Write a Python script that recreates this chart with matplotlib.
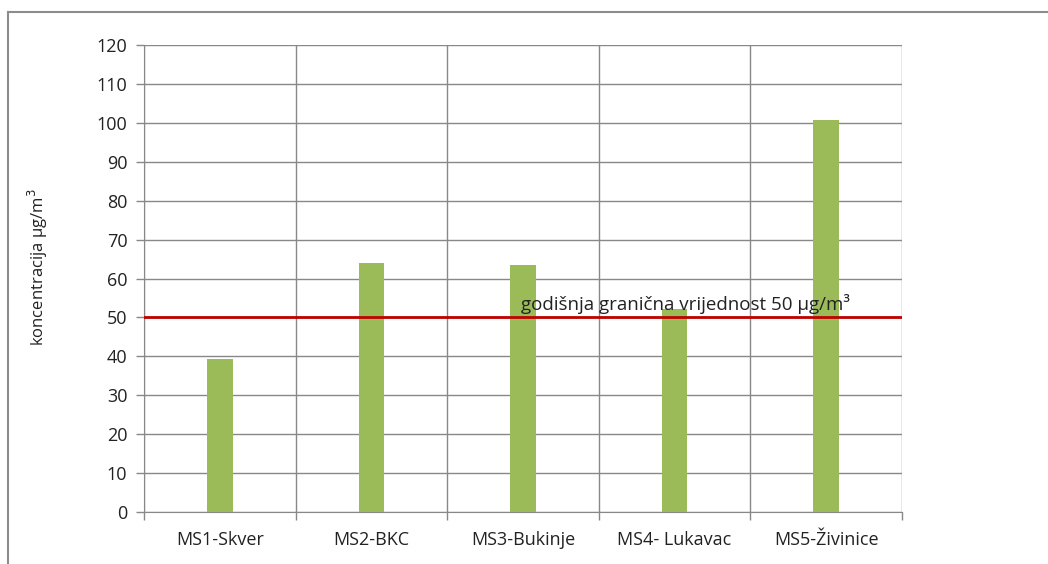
import matplotlib.pyplot as plt
from matplotlib.lines import Line2D
import numpy as np

# data
stations = ['MS1-Skver', 'MS2-BKC', 'MS3-Bukinje', 'MS4- Lukavac', 'MS5-Živinice']
concentration = [39.3, 64.0, 63.5, 52.2, 100.8]
limit_value = 50
limit_label = 'godišnja granična vrijednost 50 µg/m³'
y_ticks = list(range(0, 121, 10))

plt.rcParams['font.family'] = ['Open Sans', 'DejaVu Sans']

fig = plt.figure(figsize=(10.48, 5.64), dpi=100)
W, H = 1048, 564
ax = fig.add_axes([144 / W, 1 - 512 / H, (902 - 144) / W, (512 - 45) / H])

x = np.arange(len(stations))
ax.bar(x, concentration, width=0.17, color='#9BBB59', zorder=3)
ax.axhline(limit_value, color='#C00000', lw=2, zorder=4)
ax.text(1.99, limit_value + 1.8, limit_label, fontsize=13.5, color='#222222',
        ha='left', va='baseline', zorder=5)

ax.set_xlim(-0.5, len(stations) - 0.5)
ax.set_ylim(0, 120)
ax.set_yticks(y_ticks)
ax.set_yticklabels([str(v) for v in y_ticks], fontsize=13, color='#222222')
ax.grid(axis='y', color='#888888', lw=1, zorder=0)

# category boundaries as vertical grid lines
bounds = np.arange(len(stations) + 1) - 0.5
for b in bounds:
    ax.axvline(b, color='#888888', lw=1, zorder=1)

ax.set_xticks(x)
ax.set_xticklabels(stations, fontsize=13, color='#222222')
ax.tick_params(axis='x', length=0, pad=14)
ax.set_xticks(bounds, minor=True)
ax.tick_params(axis='x', which='minor', length=6, color='#888888', width=1)
ax.tick_params(axis='y', length=6, color='#888888', width=1, pad=6)

for s in ax.spines.values():
    s.set_color('#888888')
ax.spines['top'].set_visible(False)
ax.spines['right'].set_visible(False)

ax.set_ylabel('koncentracija µg/m$^3$', fontsize=12, color='#222222',
              labelpad=0)
ax.yaxis.set_label_coords(-0.124, 0.525)

# outer chart frame
fig.add_artist(Line2D([8 / W, 1], [1 - 12 / H, 1 - 12 / H], color='#8c8c8c', lw=1.5))
fig.add_artist(Line2D([8 / W, 8 / W], [0, 1 - 12 / H], color='#8c8c8c', lw=1.5))

fig.savefig('out.png', dpi=100, facecolor='white')
